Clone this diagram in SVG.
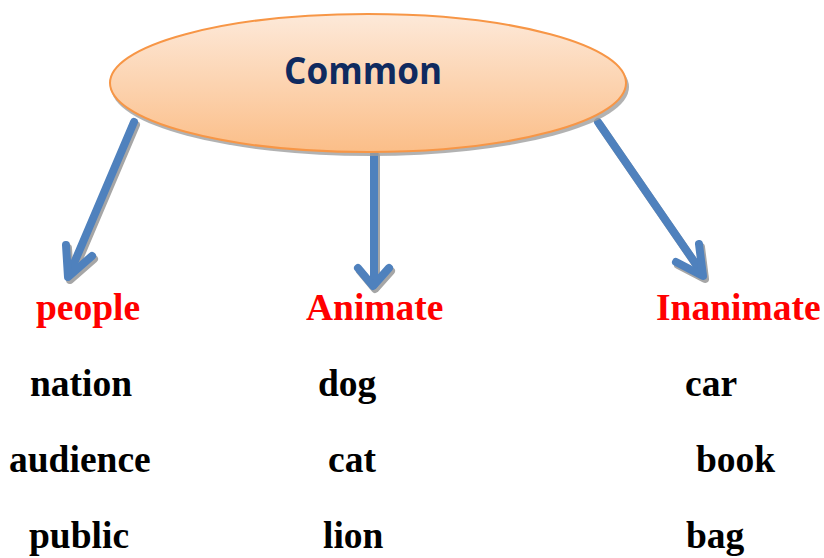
<svg xmlns="http://www.w3.org/2000/svg" width="824" height="558" viewBox="0 0 824 558">
<style>
.lbl{font-family:"Liberation Serif","Times New Roman",serif;font-weight:bold;font-size:37.5px;fill:#000}
.cat{fill:#ff0000}
.ar{fill:none;stroke:#4f81bd;stroke-width:8;stroke-linecap:round;stroke-linejoin:round}
.sh{fill:none;stroke:#a6a6a6;stroke-width:8;stroke-linecap:round;stroke-linejoin:round}
</style>
<defs>
<linearGradient id="g" x1="0" y1="0" x2="0" y2="1">
<stop offset="0" stop-color="#fde9d9"/>
<stop offset="1" stop-color="#fbbe88"/>
</linearGradient>
</defs>
<rect width="824" height="558" fill="#fff"/>
<g id="connectors">
<g transform="translate(2,3)">
<path class="sh" d="M134,122 L69,275"/>
<path class="sh" d="M66,245 L68,277 L92,256"/>
<path class="sh" d="M374,153 L374,284"/>
<path class="sh" d="M358,268 L373,286 L389,268"/>
<path class="sh" d="M598,122 L702,273"/>
<path class="sh" d="M699,244 L703,276 L676,262"/>
</g>
<path class="ar" d="M134,122 L69,275"/>
<path class="ar" d="M66,245 L68,277 L92,256"/>
<path class="ar" d="M374,153 L374,284"/>
<path class="ar" d="M358,268 L373,286 L389,268"/>
<path class="ar" d="M598,122 L702,273"/>
<path class="ar" d="M699,244 L703,276 L676,262"/>
</g>
<g id="common">
<ellipse cx="370" cy="87" rx="259" ry="69" fill="#9f9f9f" opacity="0.8"/>
<ellipse cx="368" cy="83" rx="258" ry="69" fill="url(#g)" stroke="#f79646" stroke-width="2"/>
<text x="363" y="84" text-anchor="middle" font-family="'Open Sans','Liberation Sans',sans-serif" font-weight="bold" font-size="38" fill="#0f2a5f" textLength="158" lengthAdjust="spacingAndGlyphs">Common</text>
</g>
<g id="people">
<text class="lbl cat" x="36" y="320">people</text>
<text class="lbl" x="30" y="396">nation</text>
<text class="lbl" x="9" y="472">audience</text>
<text class="lbl" x="29" y="548">public</text>
</g>
<g id="animate">
<text class="lbl cat" x="306" y="320">Animate</text>
<text class="lbl" x="318" y="396">dog</text>
<text class="lbl" x="328" y="472">cat</text>
<text class="lbl" x="323" y="548">lion</text>
</g>
<g id="inanimate">
<text class="lbl cat" x="656" y="320">Inanimate</text>
<text class="lbl" x="685" y="396">car</text>
<text class="lbl" x="696" y="472">book</text>
<text class="lbl" x="686" y="548">bag</text>
</g>
</svg>
